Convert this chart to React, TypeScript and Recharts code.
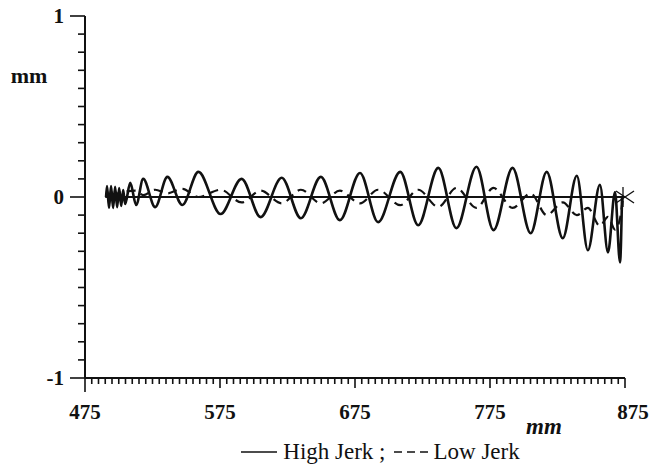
import React from 'react';
import { LineChart, Line, XAxis, YAxis, Legend, ReferenceDot } from 'recharts';

// High Jerk (solid) – position along path (mm) and deviation (mm)
const highJerkX = [490.6, 491.3, 492.8, 494.3, 495.8, 497.3, 498.8, 500.3, 501.8, 503.3, 504.7, 508.5, 512.9, 518.1, 527.0, 536.0, 547.1, 559.0, 575.4, 591.0, 605.1, 620.7, 634.9, 649.7, 663.8, 678.7, 692.1, 708.5, 721.8, 736.7, 750.1, 765.0, 777.6, 791.7, 805.1, 817.0, 828.9, 839.3, 847.5, 856.4, 862.4, 867.6, 871.3, 872.8];
const highJerkY = [0, 0.061, -0.061, 0.061, -0.061, 0.056, -0.056, 0.05, -0.05, 0.039, -0.039, 0.078, -0.044, 0.1, -0.056, 0.111, -0.044, 0.139, -0.094, 0.1, -0.111, 0.106, -0.117, 0.111, -0.128, 0.133, -0.139, 0.139, -0.156, 0.161, -0.172, 0.167, -0.183, 0.161, -0.2, 0.139, -0.228, 0.117, -0.294, 0.067, -0.306, 0.028, -0.361, 0];

// Low Jerk (dashed)
const lowJerkX = [495.8, 499.5, 512.9, 518.1, 527.0, 536.0, 547.1, 559.0, 575.4, 591.0, 605.1, 620.7, 634.9, 649.7, 663.8, 678.7, 692.1, 708.5, 721.8, 736.7, 750.1, 765.0, 777.6, 791.7, 805.1, 817.0, 828.9, 839.3, 847.5, 856.4, 862.4, 867.6, 871.3, 873.5];
const lowJerkY = [0, 0.02, 0.035, 0.01, 0.04, 0.02, 0.045, 0.0, 0.04, -0.03, 0.035, -0.035, 0.04, -0.035, 0.035, -0.035, 0.04, -0.045, 0.04, -0.055, 0.05, -0.06, 0.05, -0.06, 0.02, -0.1, -0.03, -0.1, -0.06, -0.16, -0.11, -0.18, -0.12, 0];

// Reference path (straight line at zero)
const pathX = [490, 875];
const pathY = [0, 0];

const xMajorTicks = [475, 575, 675, 775, 875];
const yMajorTicks = [-1, 0, 1];
const xTicks = Array.from({ length: 81 }, (_, i) => 475 + 5 * i);
const yTicks = Array.from({ length: 21 }, (_, i) => Math.round((-1 + 0.1 * i) * 10) / 10);

const highData = highJerkX.map((x, i) => ({ x, y: highJerkY[i] }));
const lowData = lowJerkX.map((x, i) => ({ x, y: lowJerkY[i] }));
const pathData = pathX.map((x, i) => ({ x, y: pathY[i] }));

const INK = '#111';
const FONT = 'Liberation Serif, DejaVu Serif, Times New Roman, serif';

const XTick = (props: any) => {
  const { x, y, payload } = props;
  const v = payload.value;
  const major = xMajorTicks.includes(v);
  const len = v === 475 ? 14 : major ? 10 : 6;
  return (
    <g>
      <line x1={x} x2={x} y1={y} y2={y + len} stroke={INK} strokeWidth={1.6} />
      {major && (
        <text x={x + (v === 875 ? 8 : 0)} y={y + 41} textAnchor="middle" style={{ fontFamily: FONT, fontWeight: 'bold', fontSize: 21 }} fill={INK}>
          {v}
        </text>
      )}
    </g>
  );
};

const YTick = (props: any) => {
  const { x, y, payload } = props;
  const v = payload.value;
  const major = yMajorTicks.some((m) => Math.abs(m - v) < 1e-6);
  const len = major ? 15 : 7;
  return (
    <g>
      <line x1={x - len} x2={x} y1={y} y2={y} stroke={INK} strokeWidth={1.6} />
      {major && (
        <text x={x - 21} y={y} dy="0.35em" textAnchor="end" style={{ fontFamily: FONT, fontWeight: 'bold', fontSize: 21 }} fill={INK}>
          {Math.round(v)}
        </text>
      )}
    </g>
  );
};

const Cross = (props: any) => {
  const { cx, cy } = props;
  return (
    <g stroke={INK} strokeWidth={1.3}>
      <line x1={cx - 9} y1={cy - 6} x2={cx + 9} y2={cy + 6} />
      <line x1={cx - 9} y1={cy + 6} x2={cx + 9} y2={cy - 6} />
      <line x1={cx - 2} y1={cy - 10} x2={cx - 2} y2={cy + 10} />
    </g>
  );
};

const LegendContent = () => (
  <div style={{ display: 'flex', justifyContent: 'center', alignItems: 'center', fontFamily: FONT, fontSize: 23, color: INK, lineHeight: '28px', paddingLeft: 108 }}>
    <svg width={36} height={10} style={{ marginRight: 6 }}>
      <line x1={0} x2={36} y1={5} y2={5} stroke={INK} strokeWidth={1.5} />
    </svg>
    <span>High Jerk ;</span>
    <svg width={34} height={10} style={{ marginLeft: 9, marginRight: 5 }}>
      <line x1={0} x2={34} y1={5} y2={5} stroke={INK} strokeWidth={1.5} strokeDasharray="8 5" />
    </svg>
    <span>Low Jerk</span>
  </div>
);

export default function App() {
  return (
    <div style={{ position: 'absolute', left: 0, top: 0, background: '#fff' }}>
      <LineChart width={653} height={470} margin={{ top: 16, right: 28, left: 0, bottom: 0 }}>
        <XAxis
          type="number"
          dataKey="x"
          domain={[475, 875]}
          ticks={xTicks}
          interval={0}
          allowDataOverflow
          height={92}
          tickSize={0}
          tickMargin={0}
          tickLine={false}
          axisLine={{ stroke: INK, strokeWidth: 2 }}
          tick={<XTick />}
          label={{
            content: (p: any) => {
              const vb = p.viewBox || { x: 85, y: 378, width: 540 };
              return (
                <text x={vb.x + 459} y={vb.y + 56} textAnchor="middle" style={{ fontFamily: FONT, fontWeight: 'bold', fontStyle: 'italic', fontSize: 23 }} fill={INK}>
                  mm
                </text>
              );
            },
          }}
        />
        <YAxis
          type="number"
          dataKey="y"
          domain={[-1, 1]}
          ticks={yTicks}
          interval={0}
          allowDataOverflow
          width={85}
          tickSize={0}
          tickMargin={0}
          tickLine={false}
          axisLine={{ stroke: INK, strokeWidth: 2 }}
          tick={<YTick />}
          label={{
            content: (p: any) => {
              const vb = p.viewBox || { x: 0, y: 16 };
              return (
                <text x={vb.x + 29} y={vb.y + 67} textAnchor="middle" style={{ fontFamily: FONT, fontWeight: 'bold', fontSize: 22 }} fill={INK}>
                  mm
                </text>
              );
            },
          }}
        />
        <Line data={pathData} dataKey="y" name="Path" type="linear" stroke={INK} strokeWidth={2} dot={false} isAnimationActive={false} legendType="none" />
        <Line data={lowData} dataKey="y" name="Low Jerk" type="monotone" stroke={INK} strokeWidth={2.2} strokeDasharray="9 6" dot={false} isAnimationActive={false} />
        <Line data={highData} dataKey="y" name="High Jerk" type="monotone" stroke={INK} strokeWidth={2.6} dot={false} isAnimationActive={false} />
        <ReferenceDot x={875} y={0} r={8} ifOverflow="visible" shape={<Cross />} />
        <Legend layout="horizontal" verticalAlign="middle" align="center" content={<LegendContent />} wrapperStyle={{ top: 438, left: 0, width: 653, height: 28 }} />
      </LineChart>
    </div>
  );
}
